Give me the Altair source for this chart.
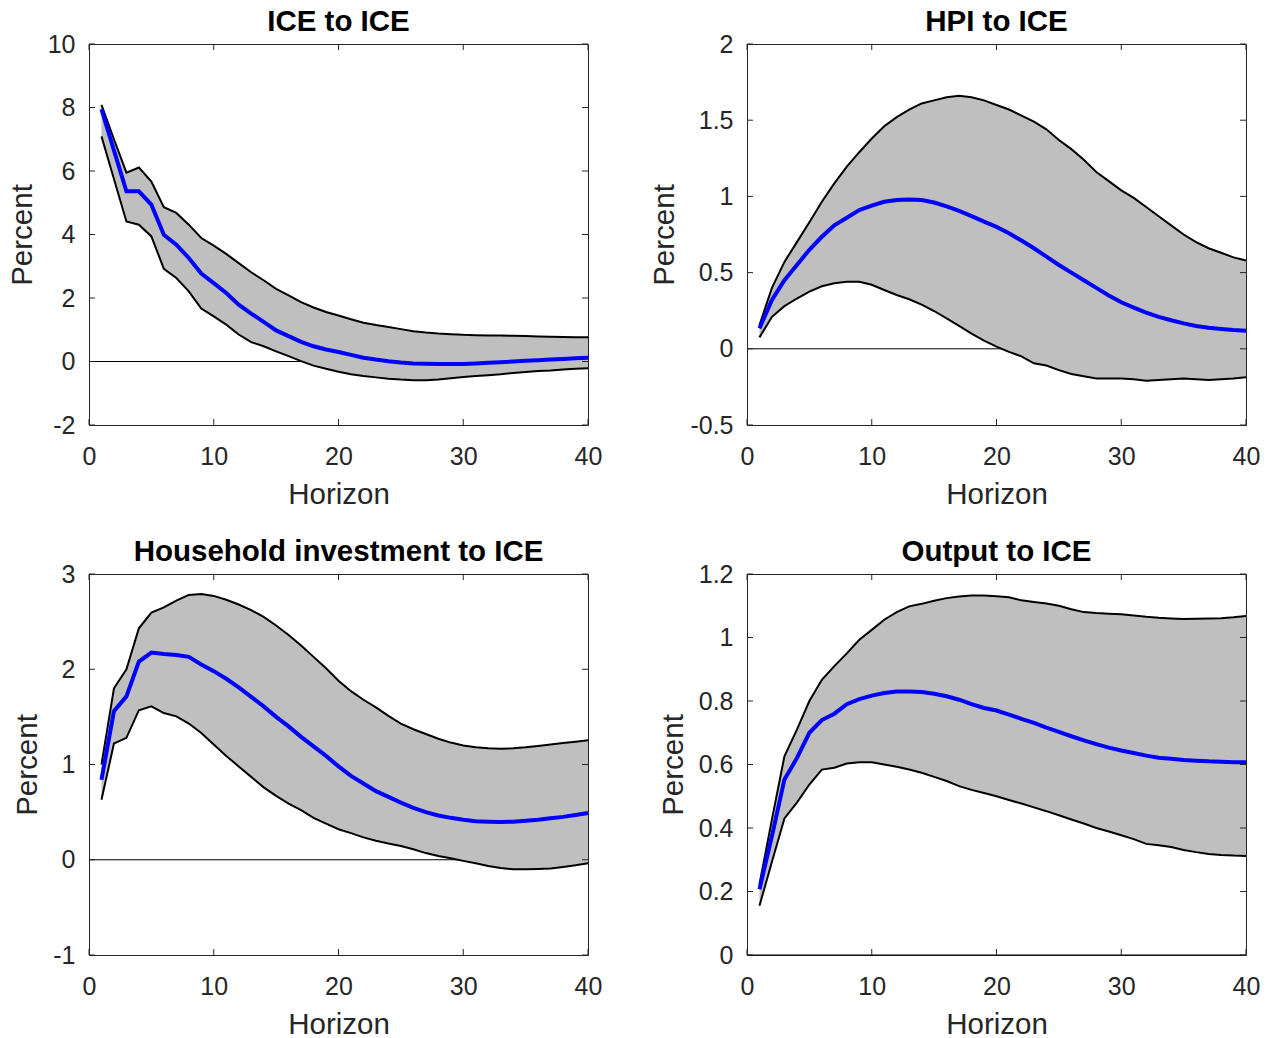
import altair as alt
import pandas as pd

horizon = list(range(1, 41))
x_ticks = [0, 10, 20, 30, 40]

# ICE to ICE
ice_upper = [8.08, 7.0, 5.95, 6.11, 5.67, 4.86, 4.68, 4.31, 3.89, 3.65, 3.39, 3.10, 2.81, 2.56, 2.29, 2.08, 1.87, 1.70, 1.56, 1.45,
             1.33, 1.22, 1.15, 1.09, 1.02, 0.95, 0.91, 0.88, 0.86, 0.84, 0.83, 0.82, 0.815, 0.81, 0.80, 0.79, 0.78, 0.77, 0.765, 0.76]
ice_mean = [7.95, 6.65, 5.36, 5.36, 4.94, 3.99, 3.68, 3.26, 2.77, 2.47, 2.16, 1.79, 1.51, 1.25, 0.98, 0.80, 0.62, 0.48, 0.38, 0.30,
            0.21, 0.12, 0.06, 0.01, -0.03, -0.06, -0.07, -0.08, -0.08, -0.08, -0.06, -0.04, -0.02, 0.0, 0.02, 0.04, 0.06, 0.08, 0.10, 0.12]
ice_lower = [7.09, 5.75, 4.41, 4.31, 3.94, 2.92, 2.63, 2.21, 1.67, 1.42, 1.16, 0.85, 0.61, 0.48, 0.32, 0.17, 0.01, -0.13, -0.23, -0.32,
             -0.40, -0.46, -0.50, -0.54, -0.57, -0.59, -0.59, -0.57, -0.53, -0.49, -0.46, -0.43, -0.40, -0.36, -0.33, -0.30, -0.28, -0.25, -0.23, -0.21]
ice_ticks = [-2, 0, 2, 4, 6, 8, 10]

# HPI to ICE
hpi_upper = [0.156, 0.40, 0.57, 0.70, 0.83, 0.965, 1.085, 1.195, 1.29, 1.38, 1.46, 1.52, 1.57, 1.61, 1.63, 1.65, 1.66, 1.65, 1.63, 1.60,
             1.57, 1.53, 1.49, 1.44, 1.37, 1.31, 1.24, 1.16, 1.10, 1.04, 0.99, 0.93, 0.87, 0.81, 0.75, 0.70, 0.66, 0.63, 0.60, 0.58]
hpi_mean = [0.134, 0.32, 0.45, 0.55, 0.65, 0.735, 0.81, 0.86, 0.91, 0.94, 0.965, 0.976, 0.98, 0.976, 0.96, 0.935, 0.905, 0.87, 0.835, 0.80,
            0.758, 0.71, 0.66, 0.605, 0.55, 0.50, 0.45, 0.40, 0.35, 0.305, 0.27, 0.237, 0.209, 0.187, 0.167, 0.15, 0.138, 0.13, 0.123, 0.119]
hpi_lower = [0.075, 0.21, 0.28, 0.33, 0.375, 0.41, 0.43, 0.44, 0.44, 0.42, 0.386, 0.353, 0.325, 0.29, 0.248, 0.20, 0.15, 0.10, 0.053, 0.014,
             -0.02, -0.05, -0.095, -0.11, -0.14, -0.165, -0.18, -0.195, -0.195, -0.195, -0.20, -0.21, -0.205, -0.20, -0.195, -0.20, -0.205, -0.20, -0.195, -0.187]
hpi_ticks = [-0.5, 0, 0.5, 1, 1.5, 2]

# Household investment to ICE
hi_upper = [1.00, 1.80, 2.00, 2.43, 2.595, 2.65, 2.72, 2.78, 2.79, 2.77, 2.73, 2.68, 2.62, 2.55, 2.46, 2.36, 2.25, 2.13, 2.01, 1.88,
            1.77, 1.68, 1.60, 1.51, 1.43, 1.37, 1.32, 1.27, 1.23, 1.20, 1.18, 1.17, 1.165, 1.17, 1.18, 1.195, 1.21, 1.225, 1.24, 1.255]
hi_mean = [0.84, 1.56, 1.715, 2.08, 2.175, 2.16, 2.15, 2.13, 2.05, 1.98, 1.90, 1.81, 1.71, 1.61, 1.50, 1.40, 1.29, 1.19, 1.09, 0.98,
           0.88, 0.80, 0.72, 0.66, 0.60, 0.545, 0.50, 0.465, 0.44, 0.42, 0.405, 0.40, 0.396, 0.40, 0.41, 0.42, 0.435, 0.45, 0.47, 0.49]
hi_lower = [0.63, 1.22, 1.28, 1.57, 1.61, 1.54, 1.505, 1.43, 1.33, 1.21, 1.09, 0.98, 0.87, 0.76, 0.67, 0.59, 0.52, 0.44, 0.38, 0.32,
            0.28, 0.235, 0.20, 0.17, 0.145, 0.11, 0.07, 0.04, 0.016, -0.012, -0.037, -0.065, -0.086, -0.10, -0.10, -0.096, -0.092, -0.075, -0.058, -0.037]
hi_ticks = [-1, 0, 1, 2, 3]

# Output to ICE
out_upper = [0.223, 0.427, 0.626, 0.71, 0.80, 0.867, 0.91, 0.95, 0.993, 1.024, 1.056, 1.08, 1.098, 1.106, 1.116, 1.124, 1.129, 1.132, 1.132, 1.13,
             1.127, 1.117, 1.112, 1.107, 1.10, 1.089, 1.08, 1.077, 1.075, 1.073, 1.069, 1.065, 1.062, 1.06, 1.058, 1.059, 1.06, 1.061, 1.064, 1.068]
out_mean = [0.207, 0.375, 0.553, 0.62, 0.70, 0.74, 0.76, 0.79, 0.806, 0.817, 0.825, 0.83, 0.83, 0.828, 0.823, 0.815, 0.804, 0.79, 0.778, 0.77,
            0.757, 0.744, 0.731, 0.716, 0.703, 0.689, 0.676, 0.664, 0.653, 0.644, 0.636, 0.628, 0.621, 0.618, 0.614, 0.612, 0.61, 0.609, 0.607, 0.607]
out_lower = [0.155, 0.294, 0.43, 0.48, 0.537, 0.584, 0.59, 0.603, 0.607, 0.607, 0.60, 0.593, 0.584, 0.574, 0.561, 0.548, 0.532, 0.52, 0.51, 0.50,
             0.488, 0.477, 0.465, 0.453, 0.44, 0.427, 0.414, 0.40, 0.389, 0.377, 0.365, 0.35, 0.346, 0.34, 0.331, 0.324, 0.318, 0.315, 0.313, 0.312]
out_ticks = [0, 0.2, 0.4, 0.6, 0.8, 1, 1.2]

W, H = 499, 381
FONT = "Liberation Sans"
AX = "#262626"
TICK = 6


def panel(title, upper, mean, lower, yticks):
    df = pd.DataFrame({"h": horizon, "upper": upper, "mean": mean, "lower": lower})
    xs = alt.Scale(domain=[0, 40], nice=False, zero=False)
    ys = alt.Scale(domain=[yticks[0], yticks[-1]], nice=False, zero=False)
    xaxis = alt.Axis(values=x_ticks, labelExpr="'' + datum.value")
    yaxis = alt.Axis(values=yticks, labelExpr="'' + datum.value")
    base = alt.Chart(df)

    zero = alt.Chart(pd.DataFrame({"z": [0]})).mark_rule(color="black", strokeWidth=1).encode(
        y=alt.Y("z:Q", scale=ys, axis=yaxis, title="Percent"))
    band = base.mark_area(color="#bfbfbf", opacity=1).encode(
        x=alt.X("h:Q", scale=xs, axis=xaxis, title="Horizon"),
        y=alt.Y("lower:Q", scale=ys, axis=yaxis, title="Percent"),
        y2="upper:Q")
    up = base.mark_line(color="black", strokeWidth=2).encode(
        x=alt.X("h:Q", scale=xs, title="Horizon"), y=alt.Y("upper:Q", scale=ys, title="Percent"))
    lo = base.mark_line(color="black", strokeWidth=2).encode(
        x=alt.X("h:Q", scale=xs, title="Horizon"), y=alt.Y("lower:Q", scale=ys, title="Percent"))
    mid = base.mark_line(color="#0000ff", strokeWidth=4).encode(
        x=alt.X("h:Q", scale=xs, title="Horizon"), y=alt.Y("mean:Q", scale=ys, title="Percent"))

    xt = alt.Chart(pd.DataFrame({"t": x_ticks}))
    yt = alt.Chart(pd.DataFrame({"t": yticks}))
    xtick_b = xt.mark_rule(color=AX, strokeWidth=1).encode(
        x=alt.X("t:Q", scale=xs, title="Horizon"), y=alt.value(H), y2=alt.value(H - TICK))
    xtick_t = xt.mark_rule(color=AX, strokeWidth=1).encode(
        x=alt.X("t:Q", scale=xs, title="Horizon"), y=alt.value(0), y2=alt.value(TICK))
    ytick_l = yt.mark_rule(color=AX, strokeWidth=1).encode(
        y=alt.Y("t:Q", scale=ys, title="Percent"), x=alt.value(0), x2=alt.value(TICK))
    ytick_r = yt.mark_rule(color=AX, strokeWidth=1).encode(
        y=alt.Y("t:Q", scale=ys, title="Percent"), x=alt.value(W - TICK), x2=alt.value(W))

    return alt.layer(zero, band, up, lo, mid, xtick_b, xtick_t, ytick_l, ytick_r).properties(
        width=W, height=H,
        title=alt.TitleParams(title, font=FONT, fontSize=29.5, fontWeight="bold", color="black",
                              anchor="middle", baseline="alphabetic", offset=-28))


p1 = panel("ICE to ICE", ice_upper, ice_mean, ice_lower, ice_ticks)
p2 = panel("HPI to ICE", hpi_upper, hpi_mean, hpi_lower, hpi_ticks)
p3 = panel("Household investment to ICE", hi_upper, hi_mean, hi_lower, hi_ticks)
p4 = panel("Output to ICE", out_upper, out_mean, out_lower, out_ticks)

chart = alt.concat(p1, p2, p3, p4, columns=2, spacing={"row": 27, "column": 46}).properties(
    padding={"left": 6, "top": 6, "right": 5, "bottom": 0}
).configure_view(
    stroke=AX, strokeWidth=1
).configure_axis(
    grid=False, ticks=False, tickSize=0, domainColor=AX, domainWidth=1,
    labelFont=FONT, labelFontSize=25, labelColor=AX, labelFlush=False, labelOverlap=False,
    titleFont=FONT, titleFontSize=29.5, titleFontWeight="normal", titleColor=AX,
).configure_axisX(labelPadding=19, titlePadding=11).configure_axisY(labelPadding=14, titlePadding=10)

chart.save("out.html", embed_options={"renderer": "svg", "actions": False})
